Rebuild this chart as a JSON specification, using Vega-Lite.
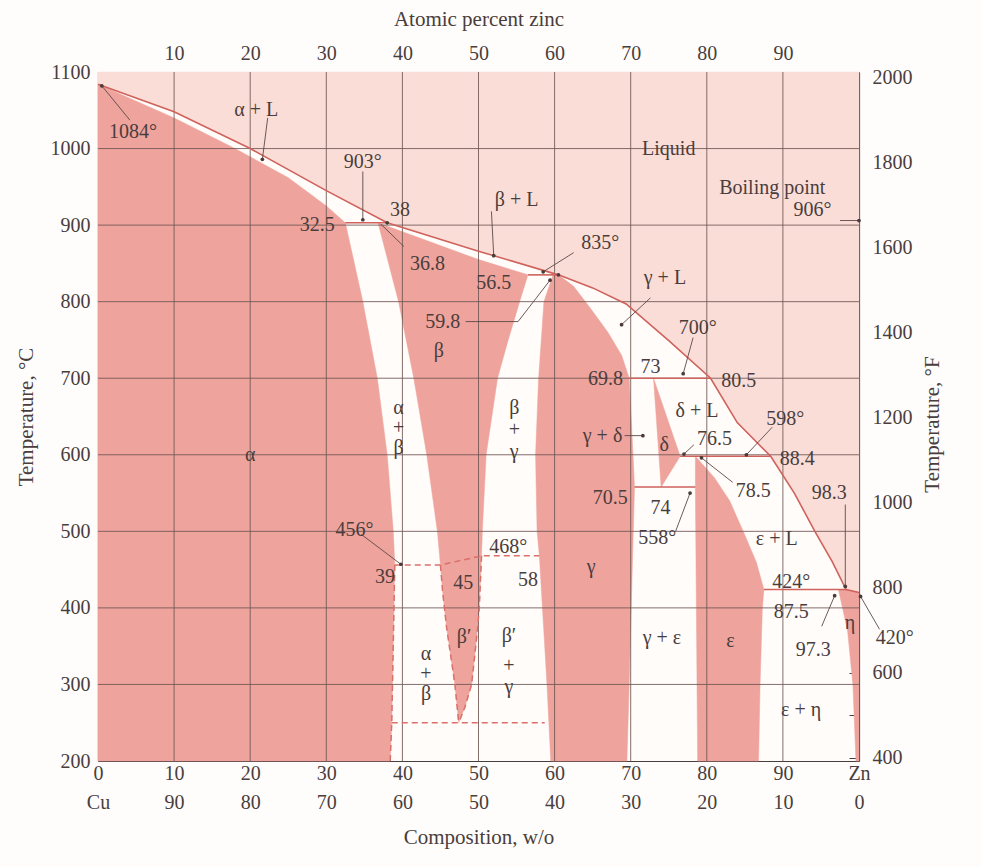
{
  "$schema": "https://vega.github.io/schema/vega-lite/v6.json",
  "width": 761,
  "height": 689,
  "autosize": {"type": "none"},
  "padding": {"left": 98, "top": 72, "right": 123, "bottom": 106},
  "background": "#fefdfb",
  "config": {
    "view": {"stroke": null, "fill": "#fffcf9"},
    "font": "Liberation Serif",
    "axis": {
      "labelFont": "Liberation Serif",
      "labelFontSize": 20,
      "labelColor": "#4a3d3d",
      "titleFont": "Liberation Serif",
      "titleFontSize": 21,
      "titleFontWeight": "normal",
      "titleColor": "#4a3d3d",
      "domainColor": "#4a3d3d",
      "domainWidth": 1.2,
      "ticks": false,
      "grid": false,
      "labelOverlap": false,
      "labelFlush": false,
      "zindex": 1
    }
  },
  "datasets": {
    "liq": [
      {"i": 0, "wt": 0, "t": 1100}, {"i": 1, "wt": 0, "t": 1084}, {"i": 2, "wt": 10, "t": 1048},
      {"i": 3, "wt": 20, "t": 1000}, {"i": 4, "wt": 30, "t": 945}, {"i": 5, "wt": 38, "t": 903},
      {"i": 6, "wt": 50, "t": 866}, {"i": 7, "wt": 60.5, "t": 835}, {"i": 8, "wt": 65, "t": 818},
      {"i": 9, "wt": 69.4, "t": 797}, {"i": 10, "wt": 75, "t": 749}, {"i": 11, "wt": 80.5, "t": 700},
      {"i": 12, "wt": 84, "t": 642}, {"i": 13, "wt": 88.4, "t": 598}, {"i": 14, "wt": 91.5, "t": 550},
      {"i": 15, "wt": 94.2, "t": 500}, {"i": 16, "wt": 96.5, "t": 460}, {"i": 17, "wt": 98.3, "t": 424},
      {"i": 18, "wt": 100, "t": 420}, {"i": 19, "wt": 100, "t": 1100}
    ],
    "phase": [
      {"ph": "alpha", "i": 0, "wt": 0, "t": 200}, {"ph": "alpha", "i": 1, "wt": 0, "t": 1084},
      {"ph": "alpha", "i": 2, "wt": 10, "t": 1040}, {"ph": "alpha", "i": 3, "wt": 18, "t": 1000},
      {"ph": "alpha", "i": 4, "wt": 25, "t": 962}, {"ph": "alpha", "i": 5, "wt": 30, "t": 925},
      {"ph": "alpha", "i": 6, "wt": 32.5, "t": 903}, {"ph": "alpha", "i": 7, "wt": 34.8, "t": 800},
      {"ph": "alpha", "i": 8, "wt": 36.7, "t": 700}, {"ph": "alpha", "i": 9, "wt": 38, "t": 600},
      {"ph": "alpha", "i": 10, "wt": 38.8, "t": 500}, {"ph": "alpha", "i": 11, "wt": 39, "t": 456},
      {"ph": "alpha", "i": 12, "wt": 38.8, "t": 350}, {"ph": "alpha", "i": 13, "wt": 38.6, "t": 250},
      {"ph": "alpha", "i": 14, "wt": 38.4, "t": 200},

      {"ph": "beta", "i": 0, "wt": 36.8, "t": 903}, {"ph": "beta", "i": 1, "wt": 50, "t": 855},
      {"ph": "beta", "i": 2, "wt": 56.5, "t": 835}, {"ph": "beta", "i": 3, "wt": 55.4, "t": 800},
      {"ph": "beta", "i": 4, "wt": 53.9, "t": 750}, {"ph": "beta", "i": 5, "wt": 52.5, "t": 700},
      {"ph": "beta", "i": 6, "wt": 51, "t": 600}, {"ph": "beta", "i": 7, "wt": 50.5, "t": 500},
      {"ph": "beta", "i": 8, "wt": 50.4, "t": 468}, {"ph": "beta", "i": 9, "wt": 50.1, "t": 400},
      {"ph": "beta", "i": 10, "wt": 49.9, "t": 375}, {"ph": "beta", "i": 11, "wt": 49.1, "t": 300},
      {"ph": "beta", "i": 12, "wt": 48.2, "t": 270}, {"ph": "beta", "i": 13, "wt": 47.4, "t": 250},
      {"ph": "beta", "i": 14, "wt": 46.9, "t": 300}, {"ph": "beta", "i": 15, "wt": 45.8, "t": 375},
      {"ph": "beta", "i": 16, "wt": 45.3, "t": 420}, {"ph": "beta", "i": 17, "wt": 45, "t": 456},
      {"ph": "beta", "i": 18, "wt": 44.6, "t": 500}, {"ph": "beta", "i": 19, "wt": 43.2, "t": 600},
      {"ph": "beta", "i": 20, "wt": 41.5, "t": 700}, {"ph": "beta", "i": 21, "wt": 39.5, "t": 800},

      {"ph": "gamma", "i": 0, "wt": 59.8, "t": 835}, {"ph": "gamma", "i": 1, "wt": 58.6, "t": 800},
      {"ph": "gamma", "i": 2, "wt": 57.9, "t": 700}, {"ph": "gamma", "i": 3, "wt": 57.5, "t": 600},
      {"ph": "gamma", "i": 4, "wt": 57.7, "t": 500}, {"ph": "gamma", "i": 5, "wt": 58, "t": 468},
      {"ph": "gamma", "i": 6, "wt": 59, "t": 300}, {"ph": "gamma", "i": 7, "wt": 59.5, "t": 200},
      {"ph": "gamma", "i": 8, "wt": 69.5, "t": 200}, {"ph": "gamma", "i": 9, "wt": 69.8, "t": 300},
      {"ph": "gamma", "i": 10, "wt": 70.2, "t": 450}, {"ph": "gamma", "i": 11, "wt": 70.5, "t": 558},
      {"ph": "gamma", "i": 12, "wt": 70.3, "t": 600}, {"ph": "gamma", "i": 13, "wt": 69.8, "t": 700},
      {"ph": "gamma", "i": 14, "wt": 68.8, "t": 730}, {"ph": "gamma", "i": 15, "wt": 67, "t": 760},
      {"ph": "gamma", "i": 16, "wt": 64.8, "t": 790}, {"ph": "gamma", "i": 17, "wt": 62.5, "t": 820},
      {"ph": "gamma", "i": 18, "wt": 60.5, "t": 835},

      {"ph": "delta", "i": 0, "wt": 73, "t": 700}, {"ph": "delta", "i": 1, "wt": 76.5, "t": 598},
      {"ph": "delta", "i": 2, "wt": 74, "t": 558},

      {"ph": "eps", "i": 0, "wt": 78.5, "t": 598}, {"ph": "eps", "i": 1, "wt": 81, "t": 570},
      {"ph": "eps", "i": 2, "wt": 83, "t": 540}, {"ph": "eps", "i": 3, "wt": 85, "t": 495},
      {"ph": "eps", "i": 4, "wt": 86.5, "t": 460}, {"ph": "eps", "i": 5, "wt": 87.5, "t": 424},
      {"ph": "eps", "i": 6, "wt": 87.3, "t": 400}, {"ph": "eps", "i": 7, "wt": 87, "t": 300},
      {"ph": "eps", "i": 8, "wt": 86.8, "t": 200}, {"ph": "eps", "i": 9, "wt": 78.8, "t": 200},
      {"ph": "eps", "i": 10, "wt": 78.5, "t": 558},

      {"ph": "eta", "i": 0, "wt": 97.3, "t": 424}, {"ph": "eta", "i": 1, "wt": 98.3, "t": 424},
      {"ph": "eta", "i": 2, "wt": 100, "t": 420}, {"ph": "eta", "i": 3, "wt": 100, "t": 200},
      {"ph": "eta", "i": 4, "wt": 99.6, "t": 200}, {"ph": "eta", "i": 5, "wt": 99.2, "t": 300},
      {"ph": "eta", "i": 6, "wt": 98.5, "t": 370}
    ],
    "gridv": [
      {"wt": 10, "t": 200, "t2": 1100}, {"wt": 20, "t": 200, "t2": 1100}, {"wt": 30, "t": 200, "t2": 1100},
      {"wt": 40, "t": 200, "t2": 1100}, {"wt": 50, "t": 200, "t2": 1100}, {"wt": 60, "t": 200, "t2": 1100},
      {"wt": 70, "t": 200, "t2": 1100}, {"wt": 80, "t": 200, "t2": 1100}, {"wt": 90, "t": 200, "t2": 1100}
    ],
    "gridh": [
      {"t": 300, "wt": 0, "wt2": 100}, {"t": 400, "wt": 0, "wt2": 100}, {"t": 500, "wt": 0, "wt2": 100},
      {"t": 600, "wt": 0, "wt2": 100}, {"t": 700, "wt": 0, "wt2": 100}, {"t": 800, "wt": 0, "wt2": 100},
      {"t": 900, "wt": 0, "wt2": 100}, {"t": 1000, "wt": 0, "wt2": 100}
    ],
    "bounds": [
      {"id": "liquidus", "i": 0, "wt": 0, "t": 1084}, {"id": "liquidus", "i": 1, "wt": 10, "t": 1048},
      {"id": "liquidus", "i": 2, "wt": 20, "t": 1000}, {"id": "liquidus", "i": 3, "wt": 30, "t": 945},
      {"id": "liquidus", "i": 4, "wt": 38, "t": 903}, {"id": "liquidus", "i": 5, "wt": 50, "t": 866},
      {"id": "liquidus", "i": 6, "wt": 60.5, "t": 835}, {"id": "liquidus", "i": 7, "wt": 65, "t": 818},
      {"id": "liquidus", "i": 8, "wt": 69.4, "t": 797}, {"id": "liquidus", "i": 9, "wt": 75, "t": 749},
      {"id": "liquidus", "i": 10, "wt": 80.5, "t": 700}, {"id": "liquidus", "i": 11, "wt": 84, "t": 642},
      {"id": "liquidus", "i": 12, "wt": 88.4, "t": 598}, {"id": "liquidus", "i": 13, "wt": 91.5, "t": 550},
      {"id": "liquidus", "i": 14, "wt": 94.2, "t": 500}, {"id": "liquidus", "i": 15, "wt": 96.5, "t": 460},
      {"id": "liquidus", "i": 16, "wt": 98.3, "t": 424}, {"id": "liquidus", "i": 17, "wt": 100, "t": 420},
      {"id": "p903", "i": 0, "wt": 32.5, "t": 903}, {"id": "p903", "i": 1, "wt": 38, "t": 903},
      {"id": "p835", "i": 0, "wt": 56.5, "t": 835}, {"id": "p835", "i": 1, "wt": 60.5, "t": 835},
      {"id": "p700", "i": 0, "wt": 69.8, "t": 700}, {"id": "p700", "i": 1, "wt": 80.5, "t": 700},
      {"id": "p598", "i": 0, "wt": 76.5, "t": 598}, {"id": "p598", "i": 1, "wt": 88.4, "t": 598},
      {"id": "p558", "i": 0, "wt": 70.5, "t": 558}, {"id": "p558", "i": 1, "wt": 78.5, "t": 558},
      {"id": "p424", "i": 0, "wt": 87.5, "t": 424}, {"id": "p424", "i": 1, "wt": 98.3, "t": 424}
    ],
    "dashed": [
      {"id": "order", "i": 0, "wt": 39, "t": 456}, {"id": "order", "i": 1, "wt": 45, "t": 456},
      {"id": "order", "i": 2, "wt": 50.4, "t": 468}, {"id": "order", "i": 3, "wt": 58, "t": 468},
      {"id": "low", "i": 0, "wt": 38.6, "t": 250}, {"id": "low", "i": 1, "wt": 58.7, "t": 250},
      {"id": "alpha", "i": 0, "wt": 39, "t": 456}, {"id": "alpha", "i": 1, "wt": 38.8, "t": 350},
      {"id": "alpha", "i": 2, "wt": 38.6, "t": 250}, {"id": "alpha", "i": 3, "wt": 38.4, "t": 200},
      {"id": "bl", "i": 0, "wt": 45, "t": 456}, {"id": "bl", "i": 1, "wt": 45.3, "t": 420},
      {"id": "bl", "i": 2, "wt": 45.8, "t": 375}, {"id": "bl", "i": 3, "wt": 46.9, "t": 300},
      {"id": "bl", "i": 4, "wt": 47.4, "t": 250},
      {"id": "br", "i": 0, "wt": 50.4, "t": 468}, {"id": "br", "i": 1, "wt": 50.1, "t": 400},
      {"id": "br", "i": 2, "wt": 49.9, "t": 375}, {"id": "br", "i": 3, "wt": 49.1, "t": 300},
      {"id": "br", "i": 4, "wt": 48.2, "t": 270}, {"id": "br", "i": 5, "wt": 47.4, "t": 250}
    ],
    "leaders": [
      {"wt": 4.2, "t": 1037, "wt2": 0.5, "t2": 1082},
      {"wt": 22.3, "t": 1040, "wt2": 21.6, "t2": 986},
      {"wt": 34.8, "t": 970, "wt2": 34.8, "t2": 907},
      {"wt": 37.2, "t": 901, "wt2": 40.2, "t2": 872},
      {"wt": 51.7, "t": 918, "wt2": 52, "t2": 860},
      {"wt": 62.5, "t": 864, "wt2": 58.5, "t2": 839},
      {"wt": 48.3, "t": 774, "wt2": 55.2, "t2": 774},
      {"wt": 55.2, "t": 774, "wt2": 59.4, "t2": 828},
      {"wt": 72.6, "t": 805, "wt2": 68.8, "t2": 770},
      {"wt": 78.2, "t": 753, "wt2": 76.9, "t2": 706},
      {"wt": 69.2, "t": 625, "wt2": 71.6, "t2": 625},
      {"wt": 78.3, "t": 613, "wt2": 77, "t2": 601},
      {"wt": 88.6, "t": 636, "wt2": 85.2, "t2": 600},
      {"wt": 83.4, "t": 564, "wt2": 79.3, "t2": 596},
      {"wt": 75.9, "t": 500, "wt2": 77.8, "t2": 550},
      {"wt": 34.6, "t": 496, "wt2": 39.8, "t2": 457},
      {"wt": 97.5, "t": 906, "wt2": 100, "t2": 906},
      {"wt": 98.2, "t": 535, "wt2": 98.2, "t2": 428},
      {"wt": 95.1, "t": 376, "wt2": 96.8, "t2": 416},
      {"wt": 102.7, "t": 372, "wt2": 100.2, "t2": 415}
    ],
    "tips": [
      {"wt": 0.5, "t": 1082}, {"wt": 21.6, "t": 986}, {"wt": 34.8, "t": 907}, {"wt": 52, "t": 860},
      {"wt": 58.5, "t": 839}, {"wt": 59.4, "t": 828}, {"wt": 68.8, "t": 770}, {"wt": 76.9, "t": 706},
      {"wt": 71.6, "t": 625}, {"wt": 77, "t": 601}, {"wt": 85.2, "t": 600}, {"wt": 79.3, "t": 596},
      {"wt": 77.8, "t": 550}, {"wt": 39.8, "t": 457}, {"wt": 100, "t": 906}, {"wt": 98.2, "t": 428},
      {"wt": 96.8, "t": 416}, {"wt": 100.2, "t": 415}, {"wt": 38, "t": 903}, {"wt": 60.5, "t": 835}
    ],
    "labels": [
      {"wt": 20.8, "t": 1050, "txt": "α + L"},
      {"wt": 4.6, "t": 1022, "txt": "1084°"},
      {"wt": 34.8, "t": 983, "txt": "903°"},
      {"wt": 28.8, "t": 900, "txt": "32.5"},
      {"wt": 39.7, "t": 920, "txt": "38"},
      {"wt": 43.3, "t": 849, "txt": "36.8"},
      {"wt": 55, "t": 933, "txt": "β + L"},
      {"wt": 66, "t": 876, "txt": "835°"},
      {"wt": 52, "t": 825, "txt": "56.5"},
      {"wt": 45.3, "t": 773, "txt": "59.8"},
      {"wt": 44.8, "t": 735, "txt": "β"},
      {"wt": 75, "t": 1000, "txt": "Liquid"},
      {"wt": 88.6, "t": 948, "txt": "Boiling point"},
      {"wt": 93.9, "t": 920, "txt": "906°"},
      {"wt": 74.5, "t": 831, "txt": "γ + L"},
      {"wt": 78.8, "t": 766, "txt": "700°"},
      {"wt": 72.6, "t": 715, "txt": "73"},
      {"wt": 66.7, "t": 699, "txt": "69.8"},
      {"wt": 84.2, "t": 697, "txt": "80.5"},
      {"wt": 78.7, "t": 657, "txt": "δ + L"},
      {"wt": 90.3, "t": 647, "txt": "598°"},
      {"wt": 66.3, "t": 625, "txt": "γ + δ"},
      {"wt": 74.4, "t": 613, "txt": "δ"},
      {"wt": 81, "t": 620, "txt": "76.5"},
      {"wt": 91.9, "t": 595, "txt": "88.4"},
      {"wt": 86.1, "t": 553, "txt": "78.5"},
      {"wt": 67.3, "t": 543, "txt": "70.5"},
      {"wt": 73.9, "t": 530, "txt": "74"},
      {"wt": 96.1, "t": 550, "txt": "98.3"},
      {"wt": 73.5, "t": 491, "txt": "558°"},
      {"wt": 89.2, "t": 490, "txt": "ε + L"},
      {"wt": 20, "t": 600, "txt": "α"},
      {"wt": 39.5, "t": 661, "txt": "α"},
      {"wt": 39.5, "t": 635, "txt": "+"},
      {"wt": 39.5, "t": 609, "txt": "β"},
      {"wt": 54.7, "t": 661, "txt": "β"},
      {"wt": 54.7, "t": 633, "txt": "+"},
      {"wt": 54.7, "t": 604, "txt": "γ"},
      {"wt": 33.7, "t": 502, "txt": "456°"},
      {"wt": 53.9, "t": 480, "txt": "468°"},
      {"wt": 37.7, "t": 440, "txt": "39"},
      {"wt": 48, "t": 432, "txt": "45"},
      {"wt": 56.5, "t": 437, "txt": "58"},
      {"wt": 64.8, "t": 453, "txt": "γ"},
      {"wt": 48.1, "t": 362, "txt": "β′"},
      {"wt": 54, "t": 363, "txt": "β′"},
      {"wt": 54, "t": 324, "txt": "+"},
      {"wt": 54, "t": 297, "txt": "γ"},
      {"wt": 43.1, "t": 340, "txt": "α"},
      {"wt": 43.1, "t": 314, "txt": "+"},
      {"wt": 43.1, "t": 288, "txt": "β"},
      {"wt": 74.1, "t": 361, "txt": "γ + ε"},
      {"wt": 83.1, "t": 357, "txt": "ε"},
      {"wt": 91.1, "t": 434, "txt": "424°"},
      {"wt": 91.1, "t": 395, "txt": "87.5"},
      {"wt": 94, "t": 345, "txt": "97.3"},
      {"wt": 98.8, "t": 380, "txt": "η"},
      {"wt": 104.7, "t": 361, "txt": "420°"},
      {"wt": 92.4, "t": 267, "txt": "ε + η"}
    ],
    "fahr": [
      {"wt": 100, "f": 400}, {"wt": 100, "f": 500}, {"wt": 100, "f": 600}, {"wt": 100, "f": 700},
      {"wt": 100, "f": 800}, {"wt": 100, "f": 900}, {"wt": 100, "f": 1000}, {"wt": 100, "f": 1100},
      {"wt": 100, "f": 1200}, {"wt": 100, "f": 1300}, {"wt": 100, "f": 1400}, {"wt": 100, "f": 1500},
      {"wt": 100, "f": 1600}, {"wt": 100, "f": 1700}, {"wt": 100, "f": 1800}, {"wt": 100, "f": 1900},
      {"wt": 100, "f": 2000}
    ]
  },
  "layer": [
    {
      "encoding": {
        "x": {
          "field": "wt", "type": "quantitative",
          "scale": {"domain": [0, 100], "nice": false, "zero": false},
          "axis": {
            "orient": "bottom",
            "values": [0, 10, 20, 30, 40, 50, 60, 70, 80, 90, 100],
            "labelExpr": "[datum.value == 100 ? 'Zn' : datum.label, datum.value == 0 ? 'Cu' : '' + (100 - datum.value)]",
            "labelLineHeight": 29,
            "labelPadding": 2,
            "title": "Composition, w/o",
            "titlePadding": 14
          }
        },
        "y": {
          "field": "t", "type": "quantitative",
          "scale": {"domain": [200, 1100], "nice": false, "zero": false},
          "axis": {
            "orient": "left",
            "values": [200, 300, 400, 500, 600, 700, 800, 900, 1000, 1100],
            "format": "d",
            "labelPadding": 8,
            "title": "Temperature, °C",
            "titlePadding": 14
          }
        }
      },
      "layer": [
        {
          "data": {"name": "liq"},
          "mark": {"type": "line", "interpolate": "linear-closed", "fill": "#fbddd7", "stroke": "#fbddd7", "strokeWidth": 0.5},
          "encoding": {"order": {"field": "i", "type": "quantitative"}}
        },
        {
          "data": {"name": "phase"},
          "mark": {"type": "line", "interpolate": "linear-closed", "fill": "#eea39c", "stroke": "#eea39c", "strokeWidth": 0.5},
          "encoding": {"detail": {"field": "ph", "type": "nominal"}, "order": {"field": "i", "type": "quantitative"}}
        },
        {
          "data": {"name": "gridv"},
          "mark": {"type": "rule", "color": "#6e5654", "strokeWidth": 1, "opacity": 0.85},
          "encoding": {"y2": {"field": "t2"}}
        },
        {
          "data": {"name": "gridh"},
          "mark": {"type": "rule", "color": "#6e5654", "strokeWidth": 1, "opacity": 0.85},
          "encoding": {"x2": {"field": "wt2"}}
        },
        {
          "data": {"name": "bounds"},
          "mark": {"type": "line", "color": "#cf625c", "strokeWidth": 1.6},
          "encoding": {"detail": {"field": "id", "type": "nominal"}, "order": {"field": "i", "type": "quantitative"}}
        },
        {
          "data": {"name": "dashed"},
          "mark": {"type": "line", "color": "#d9706a", "strokeWidth": 1.5, "strokeDash": [6, 4]},
          "encoding": {"detail": {"field": "id", "type": "nominal"}, "order": {"field": "i", "type": "quantitative"}}
        },
        {
          "data": {"name": "leaders"},
          "mark": {"type": "rule", "color": "#5a4a48", "strokeWidth": 0.9},
          "encoding": {"x2": {"field": "wt2"}, "y2": {"field": "t2"}}
        },
        {
          "data": {"name": "tips"},
          "mark": {"type": "point", "filled": true, "size": 14, "color": "#4a3a38", "opacity": 1},
          "encoding": {}
        },
        {
          "data": {"name": "labels"},
          "mark": {"type": "text", "font": "Liberation Serif", "fontSize": 20, "color": "#4a3d3d", "baseline": "middle", "align": "center"},
          "encoding": {"text": {"field": "txt", "type": "nominal"}}
        }
      ]
    },
    {
      "data": {"name": "fahr"},
      "mark": {"type": "point", "opacity": 0},
      "encoding": {
        "x": {
          "field": "wt", "type": "quantitative",
          "scale": {"domain": [0, 100], "nice": false, "zero": false},
          "axis": {
            "orient": "top",
            "values": [10, 20, 30, 40, 50, 60, 70, 80, 90],
            "labelPadding": 9,
            "title": "Atomic percent zinc",
            "titlePadding": 14
          }
        },
        "y": {
          "field": "f", "type": "quantitative",
          "scale": {"domain": [392, 2012], "nice": false, "zero": false},
          "axis": {
            "orient": "right",
            "values": [400, 500, 600, 700, 800, 900, 1000, 1100, 1200, 1300, 1400, 1500, 1600, 1700, 1800, 1900, 2000],
            "labelExpr": "datum.value % 200 == 0 ? datum.label : ''",
            "format": "d",
            "ticks": true,
            "tickSize": -10,
            "tickColor": "#4a3d3d",
            "tickWidth": 1,
            "labelPadding": 23,
            "title": "Temperature, °F",
            "titleAngle": 270,
            "titleX": 73,
            "titleY": 352,
            "titleAlign": "center",
            "titleBaseline": "middle"
          }
        }
      }
    }
  ],
  "resolve": {"scale": {"y": "independent"}, "axis": {"x": "independent", "y": "independent"}}
}
